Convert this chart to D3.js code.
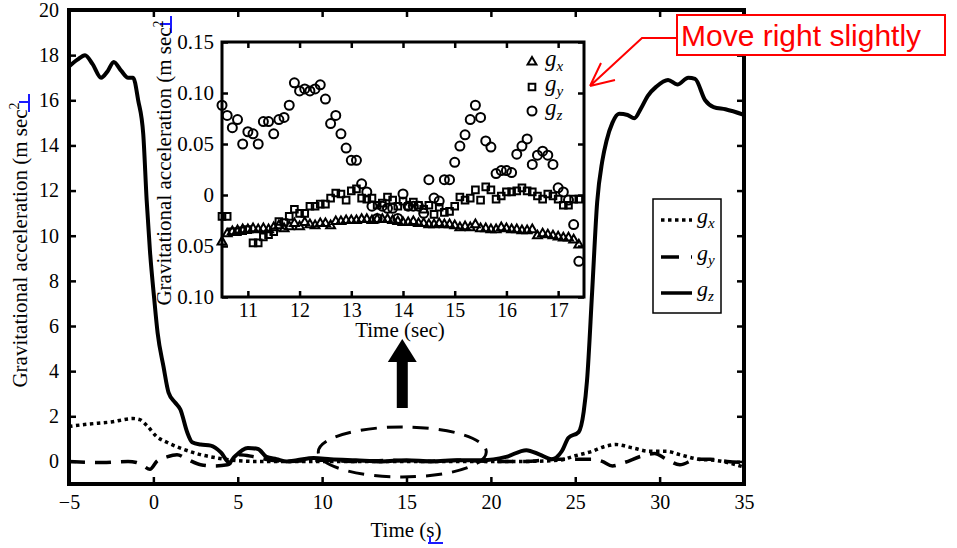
<!DOCTYPE html>
<html>
<head>
<meta charset="utf-8">
<script src="https://cdn.jsdelivr.net/npm/d3@7"></script>
<style>
  body { margin: 0; background: #fff; }
  text { font-family: "Liberation Serif", "Times New Roman", serif; fill: #000; }
</style>
</head>
<body>
<svg width="957" height="548"></svg>
<script>
// ---- main chart data (time in s, acceleration in m/s^2) ----
const gzTime = [-5,-4.5,-4.05,-3.6,-3.1,-2.7,-2.35,-1.9,-1.5,-1.2,-0.9,-0.6,-0.4,-0.2,0.05,0.25,0.6,0.9,1.3,1.6,2.0,2.3,2.8,3.4,4.0,4.5,4.8,5.6,6.2,6.7,7.3,7.9,8.5,9.5,10.5,12,13.5,15,16.5,18,19.5,20.9,22.1,22.9,23.6,24.2,24.6,25.2,25.5,25.7,26.0,26.3,26.6,26.85,27.2,27.6,28.1,28.5,28.9,29.3,29.8,30.5,31.05,31.7,32.1,32.7,33.2,33.9,35];
const gzMain = [17.5,17.8,18.0,17.6,17.0,17.3,17.7,17.3,17.0,17.0,16.0,14.5,11.6,9.3,7.2,5.7,4.2,3.05,2.6,2.3,1.3,0.85,0.75,0.7,0.4,-0.05,0.2,0.6,0.55,0.2,0.1,0.0,0.05,0.15,0.1,0.05,0.0,0.05,0.0,0.05,0.05,0.2,0.5,0.3,0.1,0.45,1.05,1.3,2.2,3.6,7.5,11.5,13.3,14.2,15.0,15.4,15.35,15.2,15.65,16.2,16.6,16.9,16.7,17.0,16.95,16.0,15.7,15.6,15.35];

const gxTime = [-5,-3.9,-2.5,-1.2,-0.8,-0.4,0.2,0.8,1.75,2.8,3.8,4.7,6,8,10,12,14,16,18,20,22,24,25,26,26.7,27.4,28.4,29.4,30.4,31.2,32.3,33.3,35];
const gxMain = [1.55,1.65,1.75,1.9,1.85,1.6,1.1,0.85,0.55,0.3,0.15,0.05,0.0,0.0,0.0,0.0,0.0,0.0,0.0,0.0,0.0,0.05,0.25,0.45,0.65,0.75,0.6,0.45,0.45,0.3,0.1,0.05,-0.25];

const gyTime = [-5,-3,-1.5,-1.0,-0.6,-0.2,0.2,0.8,1.4,2.0,2.8,3.6,4.4,5.1,6,7,8,10,12,14,16,18,20,22,24,25,26,26.6,27.2,27.9,29.0,29.7,30.4,31.2,32.2,33.0,34.0,35];
const gyMain = [0.0,-0.05,0.0,-0.05,-0.2,-0.35,0.0,0.2,0.3,0.1,-0.15,-0.2,-0.15,0.3,0.2,0.05,0.0,0.05,0.0,0.05,0.0,0.05,0.0,0.0,0.1,0.1,0.1,0.0,-0.2,-0.05,0.25,0.35,0.1,-0.15,0.1,0.1,0.0,-0.05];

const mainXTicks = [-5,0,5,10,15,20,25,30,35];
const mainYTicks = [0,2,4,6,8,10,12,14,16,18,20];

// ---- inset data (10.5 .. 17.4 s) ----
const insetTime = [10.5,10.6,10.7,10.8,10.9,11.0,11.1,11.2,11.3,11.4,11.5,11.6,11.7,11.8,11.9,12.0,12.1,12.2,12.3,12.4,12.5,12.6,12.7,12.8,12.9,13.0,13.1,13.2,13.3,13.4,13.5,13.6,13.7,13.8,13.9,14.0,14.1,14.2,14.3,14.4,14.5,14.6,14.7,14.8,14.9,15.0,15.1,15.2,15.3,15.4,15.5,15.6,15.7,15.8,15.9,16.0,16.1,16.2,16.3,16.4,16.5,16.6,16.7,16.8,16.9,17.0,17.1,17.2,17.3,17.4];
const insetGx = [-0.046,-0.038,-0.036,-0.035,-0.034,-0.034,-0.033,-0.034,-0.033,-0.034,-0.032,-0.030,-0.033,-0.031,-0.028,-0.031,-0.027,-0.029,-0.030,-0.028,-0.028,-0.030,-0.026,-0.026,-0.025,-0.025,-0.025,-0.024,-0.024,-0.025,-0.024,-0.024,-0.024,-0.025,-0.026,-0.027,-0.027,-0.026,-0.028,-0.028,-0.029,-0.029,-0.028,-0.029,-0.029,-0.030,-0.032,-0.031,-0.032,-0.029,-0.033,-0.033,-0.034,-0.034,-0.032,-0.033,-0.034,-0.034,-0.035,-0.035,-0.034,-0.040,-0.038,-0.039,-0.040,-0.041,-0.042,-0.042,-0.044,-0.049];
const insetGy = [-0.021,-0.021,-0.036,-0.036,-0.035,-0.034,-0.047,-0.047,-0.041,-0.039,-0.036,-0.026,-0.027,-0.021,-0.014,-0.018,-0.018,-0.011,-0.011,-0.009,-0.009,-0.003,0.002,0.001,-0.005,0.004,0.006,-0.003,-0.004,-0.003,-0.010,-0.008,-0.002,-0.005,-0.011,-0.006,-0.011,-0.007,-0.010,-0.014,-0.010,-0.019,-0.012,-0.017,-0.016,-0.011,-0.002,-0.005,-0.003,0.005,-0.005,0.008,0.005,-0.004,-0.001,0.003,0.003,0.004,0.007,0.004,0.003,-0.001,-0.004,0.001,-0.001,-0.004,-0.010,-0.010,-0.004,-0.004];
const insetGz = [0.088,0.078,0.066,0.074,0.050,0.062,0.060,0.050,0.072,0.072,0.060,0.074,0.076,0.088,0.110,0.102,0.104,0.102,0.104,0.108,0.094,0.070,0.078,0.060,0.046,0.034,0.034,0.011,0.003,-0.011,-0.023,-0.011,-0.013,-0.013,-0.023,0.001,-0.011,-0.011,-0.011,-0.018,0.015,-0.003,-0.006,0.015,0.015,0.032,0.048,0.059,0.074,0.088,0.076,0.053,0.047,0.021,0.024,0.024,0.022,0.040,0.048,0.055,0.030,0.039,0.043,0.039,0.030,0.007,0.003,-0.005,-0.029,-0.065];

const insetXTicks = [11,12,13,14,15,16,17];
const insetYTicks = [-0.10,-0.05,0,0.05,0.10,0.15];

const svg = d3.select("svg");

// ---- main scales ----
const x = d3.scaleLinear().domain([-5, 35]).range([69, 744]);
const y = d3.scaleLinear().domain([-1, 20]).range([484, 10]);

svg.append("defs").append("clipPath").attr("id", "clipMain")
  .append("rect").attr("x", x.range()[0]).attr("y", y.range()[1])
  .attr("width", x.range()[1] - x.range()[0]).attr("height", y.range()[0] - y.range()[1]);

const line = d3.line().x(d => x(d[0])).y(d => y(d[1])).curve(d3.curveMonotoneX);
const lines = svg.append("g").attr("clip-path", "url(#clipMain)");

lines.append("path").datum(d3.zip(gxTime, gxMain)).attr("d", line)
  .attr("fill", "none").attr("stroke", "#000").attr("stroke-width", 3.5).attr("stroke-dasharray", "3.5,3.5");
lines.append("path").datum(d3.zip(gyTime, gyMain)).attr("d", line)
  .attr("fill", "none").attr("stroke", "#000").attr("stroke-width", 3.5).attr("stroke-dasharray", "16,10");
lines.append("path").datum(d3.zip(gzTime, gzMain)).attr("d", line)
  .attr("fill", "none").attr("stroke", "#000").attr("stroke-width", 4).attr("stroke-linejoin", "round");

// frame + axes
const styleAxis = (g, fs) => {
  g.select(".domain").remove();
  g.selectAll(".tick line").attr("stroke", "#000").attr("stroke-width", 2.5);
  g.selectAll(".tick text").style("font-size", fs + "px").style("font-family", '"Liberation Serif", serif');
};
svg.append("g").attr("transform", `translate(0,${y.range()[0]})`)
  .call(d3.axisBottom(x).tickValues(mainXTicks).tickSizeInner(-7).tickSizeOuter(0).tickPadding(11))
  .call(g => styleAxis(g, 20));
svg.append("g").attr("transform", `translate(0,${y.range()[1]})`)
  .call(d3.axisTop(x).tickValues(mainXTicks).tickSizeInner(-7).tickSizeOuter(0).tickFormat(""))
  .call(g => styleAxis(g, 20));
svg.append("g").attr("transform", `translate(${x.range()[0]},0)`)
  .call(d3.axisLeft(y).tickValues(mainYTicks).tickSizeInner(-7).tickSizeOuter(0).tickPadding(10))
  .call(g => styleAxis(g, 20));
svg.append("g").attr("transform", `translate(${x.range()[1]},0)`)
  .call(d3.axisRight(y).tickValues(mainYTicks).tickSizeInner(-7).tickSizeOuter(0).tickFormat(""))
  .call(g => styleAxis(g, 20));
svg.append("rect").attr("x", x.range()[0]).attr("y", y.range()[1])
  .attr("width", x.range()[1] - x.range()[0]).attr("height", y.range()[0] - y.range()[1])
  .attr("fill", "none").attr("stroke", "#000").attr("stroke-width", 4);

// axis titles
const yTitle = svg.append("text").attr("transform", "translate(27,245) rotate(-90)")
  .attr("text-anchor", "middle").attr("font-size", 21);
yTitle.append("tspan").text("Gravitational acceleration (m sec");
yTitle.append("tspan").attr("dy", -8).attr("font-size", 14).text("2");
svg.append("text").attr("x", 406).attr("y", 537).attr("text-anchor", "middle")
  .attr("font-size", 21).text("Time (s)");

// blue edit marks
const blue = svg.append("g").attr("stroke", "#1a1aff").attr("stroke-width", 2).attr("fill", "none");
blue.append("path").attr("d", "M19,102 H29 M29,94 V112");
blue.append("path").attr("d", "M160,24 H171 M171,16 V33");
blue.append("path").attr("d", "M428,543 H443 M430,536 V543");

// main legend
const leg = svg.append("g").attr("transform", "translate(653,199)");
leg.append("rect").attr("width", 68).attr("height", 114).attr("fill", "#fff").attr("stroke", "#000").attr("stroke-width", 1.5);
const legItems = [
  {sub: "x", dash: "3.5,3.5", yy: 21},
  {sub: "y", dash: "18,12", yy: 58},
  {sub: "z", dash: null, yy: 94}
];
legItems.forEach(it => {
  leg.append("line").attr("x1", 8).attr("x2", 39).attr("y1", it.yy).attr("y2", it.yy)
    .attr("stroke", "#000").attr("stroke-width", 3.5).attr("stroke-dasharray", it.dash);
  const t = leg.append("text").attr("x", 44).attr("y", it.yy + 3).attr("font-size", 22).attr("font-style", "italic");
  t.append("tspan").text("g");
  t.append("tspan").attr("dy", 5).attr("font-size", 15).text(it.sub);
});

// ---- inset ----
const ix = d3.scaleLinear().domain([10.5, 17.5]).range([222, 584]);
const iy = d3.scaleLinear().domain([-0.10, 0.15]).range([297, 42]);
const inset = svg.append("g");
inset.append("rect").attr("x", ix.range()[0]).attr("y", iy.range()[1])
  .attr("width", ix.range()[1] - ix.range()[0]).attr("height", iy.range()[0] - iy.range()[1]).attr("fill", "#fff");

const tri = d3.symbol().type(d3.symbolTriangle).size(34);
const sq = d3.symbol().type(d3.symbolSquare).size(44);
const marks = inset.append("g").attr("fill", "none").attr("stroke", "#000").attr("stroke-width", 2);
marks.selectAll(".tri").data(d3.zip(insetTime, insetGx)).join("path").attr("class", "tri")
  .attr("d", tri).attr("transform", d => `translate(${ix(d[0])},${iy(d[1])})`);
marks.selectAll(".sq").data(d3.zip(insetTime, insetGy)).join("path").attr("class", "sq")
  .attr("d", sq).attr("transform", d => `translate(${ix(d[0])},${iy(d[1])})`);
marks.selectAll(".cir").data(d3.zip(insetTime, insetGz)).join("circle").attr("class", "cir")
  .attr("cx", d => ix(d[0])).attr("cy", d => iy(d[1])).attr("r", 4.5);

const iFmt = d => d === 0 ? "0" : d3.format(".2f")(Math.abs(d));
inset.append("g").attr("transform", `translate(0,${iy.range()[0]})`)
  .call(d3.axisBottom(ix).tickValues(insetXTicks).tickFormat(d3.format("d")).tickSizeInner(-6).tickSizeOuter(0).tickPadding(6))
  .call(g => styleAxis(g, 20));
inset.append("g").attr("transform", `translate(0,${iy.range()[1]})`)
  .call(d3.axisTop(ix).tickValues(insetXTicks).tickSizeInner(-6).tickSizeOuter(0).tickFormat(""))
  .call(g => styleAxis(g, 20));
inset.append("g").attr("transform", `translate(${ix.range()[0]},0)`)
  .call(d3.axisLeft(iy).tickValues(insetYTicks).tickFormat(iFmt).tickSizeInner(-6).tickSizeOuter(0).tickPadding(8))
  .call(g => styleAxis(g, 21));
inset.append("g").attr("transform", `translate(${ix.range()[1]},0)`)
  .call(d3.axisRight(iy).tickValues(insetYTicks).tickSizeInner(-6).tickSizeOuter(0).tickFormat(""))
  .call(g => styleAxis(g, 21));
inset.append("rect").attr("x", ix.range()[0]).attr("y", iy.range()[1])
  .attr("width", ix.range()[1] - ix.range()[0]).attr("height", iy.range()[0] - iy.range()[1])
  .attr("fill", "none").attr("stroke", "#000").attr("stroke-width", 3);

const iyTitle = svg.append("text").attr("transform", "translate(171,163) rotate(-90)")
  .attr("text-anchor", "middle").attr("font-size", 21);
iyTitle.append("tspan").text("Gravitational acceleration (m sec");
iyTitle.append("tspan").attr("dy", -8).attr("font-size", 14).text("2");
svg.append("text").attr("x", 400).attr("y", 337).attr("text-anchor", "middle")
  .attr("font-size", 21).text("Time (sec)");

// inset legend
const ileg = inset.append("g");
const ilegItems = [{sub: "x", sym: "tri", yy: 62}, {sub: "y", sym: "sq", yy: 87}, {sub: "z", sym: "cir", yy: 111}];
ilegItems.forEach(it => {
  if (it.sym === "cir") {
    ileg.append("circle").attr("cx", 532).attr("cy", it.yy).attr("r", 4.5)
      .attr("fill", "none").attr("stroke", "#000").attr("stroke-width", 2);
  } else {
    ileg.append("path").attr("d", it.sym === "tri" ? tri() : sq()).attr("transform", `translate(532,${it.yy})`)
      .attr("fill", "none").attr("stroke", "#000").attr("stroke-width", 2);
  }
  const t = ileg.append("text").attr("x", 545).attr("y", it.yy + 4).attr("font-size", 23).attr("font-style", "italic");
  t.append("tspan").text("g");
  t.append("tspan").attr("dy", 5).attr("font-size", 15).text(it.sub);
});

// ---- annotations ----
// dashed ellipse around the flat region
svg.append("ellipse").attr("cx", x(14.75)).attr("cy", y(0.42)).attr("rx", 84).attr("ry", 25)
  .attr("fill", "none").attr("stroke", "#000").attr("stroke-width", 3).attr("stroke-dasharray", "16,10");
// black arrow up to the inset
const ax = x(14.75);
svg.append("rect").attr("x", ax - 5.5).attr("y", 360).attr("width", 11).attr("height", 48).attr("fill", "#000");
svg.append("path").attr("d", `M${ax},339 L${ax + 14.5},362 L${ax - 14.5},362 Z`).attr("fill", "#000");

// red call-out
svg.append("rect").attr("x", 677).attr("y", 15).attr("width", 268).attr("height", 40)
  .attr("fill", "#fff").attr("stroke", "#ff0000").attr("stroke-width", 2);
svg.append("text").attr("x", 681).attr("y", 46)
  .style("font-size", "30px").style("font-family", '"Liberation Sans", Arial, sans-serif').style("fill", "#ff0000")
  .text("Move right slightly");
svg.append("path").attr("d", "M677,38 H642 L590,86 M590,86 L615,80 M590,86 L601,63")
  .attr("fill", "none").attr("stroke", "#ff0000").attr("stroke-width", 2);
</script>
</body>
</html>
